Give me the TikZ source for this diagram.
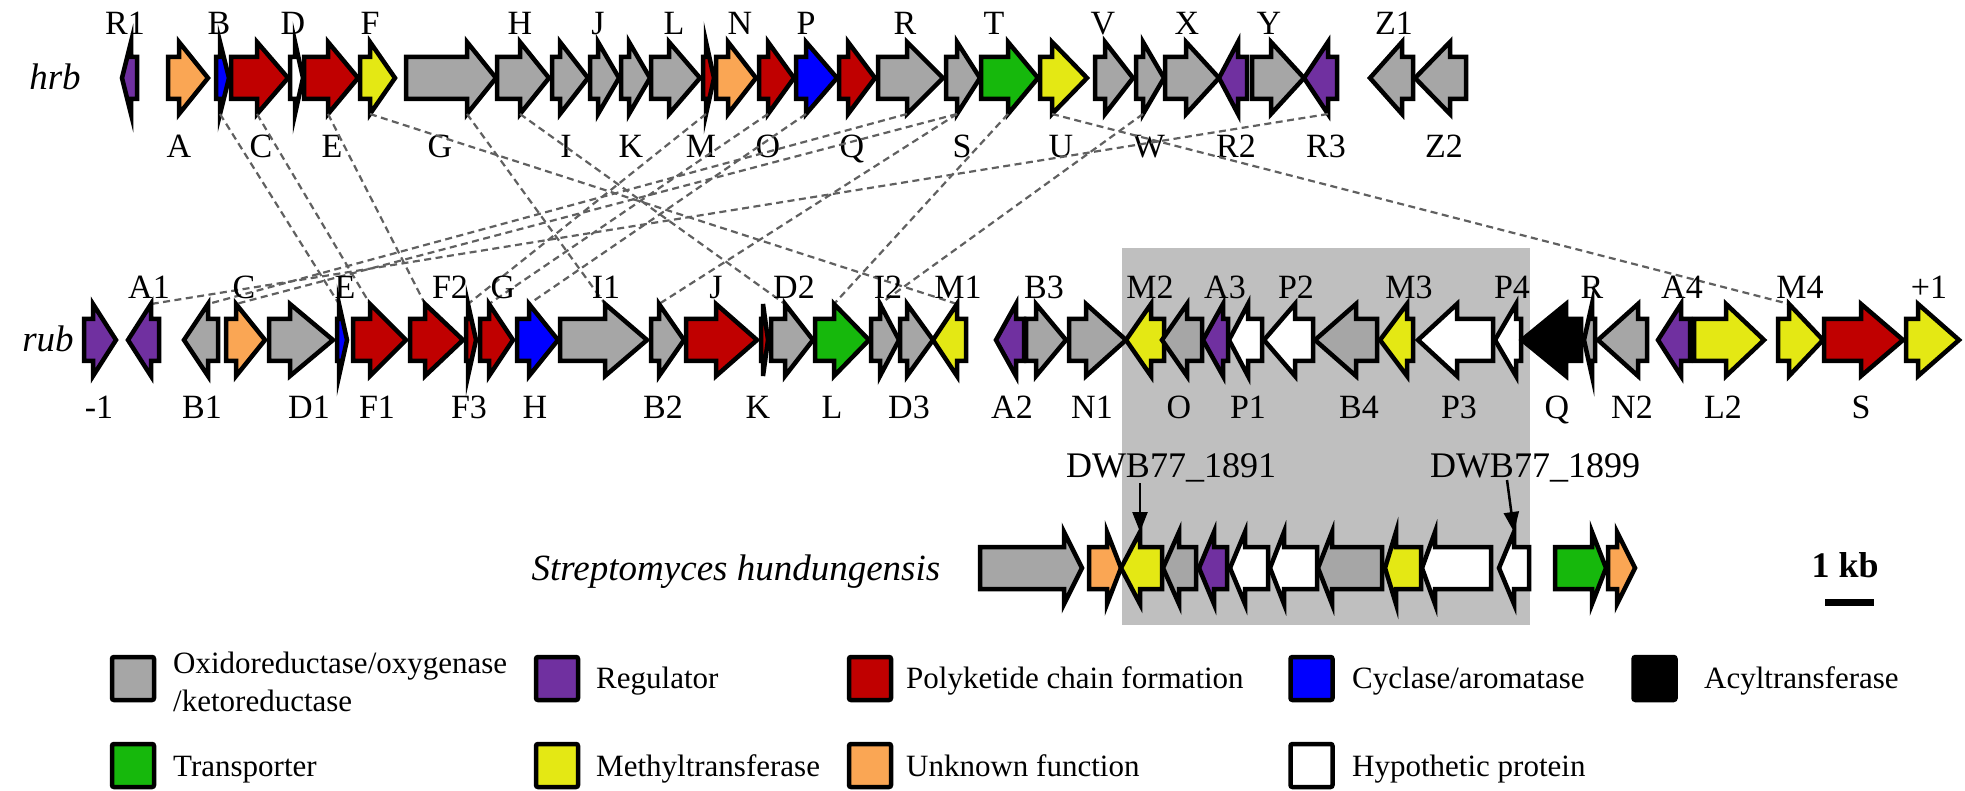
\documentclass[tikz,border=0pt]{standalone}
\usepackage{fontspec}
\setmainfont{Liberation Serif}
\usetikzlibrary{arrows.meta}
\definecolor{cgray}{RGB}{166,166,166}
\definecolor{cpur}{RGB}{112,48,160}
\definecolor{cred}{RGB}{192,0,0}
\definecolor{cblue}{RGB}{0,0,255}
\definecolor{cgreen}{RGB}{22,184,12}
\definecolor{cyel}{RGB}{228,232,20}
\definecolor{cora}{RGB}{250,166,84}
\definecolor{cbox}{RGB}{191,191,191}
\definecolor{clink}{RGB}{96,96,96}
% #1 name, #2 back x, #3 tip x, #4 head-base x, #5 centre y, #6 colour
\newcommand\gene[6]{%
  \draw[gn,fill=#6] (#2,#5-21) -- (#4,#5-21) -- (#4,#5-36) -- (#3,#5) -- (#4,#5+36) -- (#4,#5+21) -- (#2,#5+21) -- cycle;
  \coordinate (#1-t) at (#4,#5-36);
  \coordinate (#1-b) at (#4,#5+36);}
\newcommand\glabel[4]{\node[glab] (#1) at (#2,#3) {#4};}
\begin{document}
\begin{tikzpicture}[x=1pt,y=-1pt,
  gn/.style={draw=black,line width=4.5pt,line join=miter},
  link/.style={draw=clink,line width=2.2pt,dash pattern=on 7pt off 4.5pt},
  glab/.style={font=\fontsize{34}{34}\selectfont,anchor=base,inner sep=0pt},
  ital/.style={font=\itshape\fontsize{37}{37}\selectfont,anchor=base,inner sep=0pt},
  legt/.style={font=\fontsize{31}{31}\selectfont,anchor=base west,inner sep=0pt},
  legbox/.style={draw=black,line width=4.5pt,rounded corners=2pt,minimum width=42pt,minimum height=43pt,inner sep=0pt},
  pointer/.style={draw=black,line width=2.5pt,-{Triangle[length=20pt,width=15pt]}}]
\useasboundingbox (0,0) rectangle (1965,791);
% shaded region
\fill[cbox] (1122,248) rectangle (1530,625);
% ---------- hrb ----------
\node[ital] (hrb) at (55,90) {hrb};
\gene{hR1}{137}{122}{131}{78}{cpur}
\gene{hA}{168}{208}{179}{78}{cora}
\gene{hB}{216}{229}{220}{78}{cblue}
\gene{hC}{231}{288}{257}{78}{cred}
\gene{hD}{290}{303}{295}{78}{white}
\gene{hE}{304}{358}{328}{78}{cred}
\gene{hF}{360}{395}{370}{78}{cyel}
\gene{hG}{406}{496}{467}{78}{cgray}
\gene{hH}{497}{549}{520}{78}{cgray}
\gene{hI}{552}{588}{560}{78}{cgray}
\gene{hJ}{590}{619}{598}{78}{cgray}
\gene{hK}{621}{650}{629}{78}{cgray}
\gene{hL}{651}{700}{669}{78}{cgray}
\gene{hM}{703}{714}{706}{78}{cred}
\gene{hN}{716}{756}{728}{78}{cora}
\gene{hO}{759}{794}{768}{78}{cred}
\gene{hP}{796}{837}{806}{78}{cblue}
\gene{hQ}{839}{875}{848}{78}{cred}
\gene{hR}{878}{943}{907}{78}{cgray}
\gene{hS}{946}{980}{957}{78}{cgray}
\gene{hT}{981}{1038}{1008}{78}{cgreen}
\gene{hU}{1040}{1087}{1052}{78}{cyel}
\gene{hV}{1095}{1133}{1105}{78}{cgray}
\gene{hW}{1136}{1164}{1143}{78}{cgray}
\gene{hX}{1165}{1219}{1186}{78}{cgray}
\gene{hR2}{1247}{1219}{1238}{78}{cpur}
\gene{hY}{1252}{1304}{1271}{78}{cgray}
\gene{hR3}{1337}{1304}{1328}{78}{cpur}
\gene{hZ1}{1413}{1370}{1402}{78}{cgray}
\gene{hZ2}{1466}{1415}{1450}{78}{cgray}
% hrb labels
\glabel{lhR1}{125}{35}{R1}
\glabel{lhB}{219}{35}{B}
\glabel{lhD}{293}{35}{D}
\glabel{lhF}{370}{35}{F}
\glabel{lhH}{520}{35}{H}
\glabel{lhJ}{598}{35}{J}
\glabel{lhL}{674}{35}{L}
\glabel{lhN}{740}{35}{N}
\glabel{lhP}{806}{35}{P}
\glabel{lhR}{905}{35}{R}
\glabel{lhT}{994}{35}{T}
\glabel{lhV}{1103}{35}{V}
\glabel{lhX}{1187}{35}{X}
\glabel{lhY}{1269}{35}{Y}
\glabel{lhZ1}{1394}{35}{Z1}
\glabel{lhA}{179}{158}{A}
\glabel{lhC}{261}{158}{C}
\glabel{lhE}{332}{158}{E}
\glabel{lhG}{440}{158}{G}
\glabel{lhI}{566}{158}{I}
\glabel{lhK}{631}{158}{K}
\glabel{lhM}{701}{158}{M}
\glabel{lhO}{768}{158}{O}
\glabel{lhQ}{852}{158}{Q}
\glabel{lhS}{962}{158}{S}
\glabel{lhU}{1061}{158}{U}
\glabel{lhW}{1149}{158}{W}
\glabel{lhR2}{1236}{158}{R2}
\glabel{lhR3}{1326}{158}{R3}
\glabel{lhZ2}{1444}{158}{Z2}
% ---------- links (rub end points) ----------
\node[ital] (rub) at (48,352) {rub};
\foreach \n/\hb in {rA1/151,rB1/208,rC/236,rE/339,rF1/370,rF2/425,rF3/468,rG/489,rH/529,rI1/605,rB2/659,rD2/785,rL/834,rI2/880,rM1/957,rM4/1789}
  {\coordinate (\n-t) at (\hb,304);}
\draw[link] (hB-b) -- (rE-t);
\draw[link] (hC-b) -- (rF1-t);
\draw[link] (hE-b) -- (rF2-t);
\draw[link] (hF-b) -- (rM1-t);
\draw[link] (hG-b) -- (rI1-t);
\draw[link] (hH-b) -- (rD2-t);
\draw[link] (hM-b) -- (rF3-t);
\draw[link] (hO-b) -- (rG-t);
\draw[link] (hP-b) -- (rH-t);
\draw[link] (hR-b) -- (rB1-t);
\draw[link] (hS-b) -- (rC-t);
\draw[link] (hS-b) -- (rB2-t);
\draw[link] (hT-b) -- (rL-t);
\draw[link] (hW-b) -- (rI2-t);
\draw[link] (hU-b) -- (rM4-t);
\draw[link] (hR3-b) -- (rA1-t);
% ---------- rub genes ----------
\gene{rm1}{84}{116}{93}{340}{cpur}
\gene{rA1}{159}{128}{151}{340}{cpur}
\gene{rB1}{218}{184}{208}{340}{cgray}
\gene{rC}{226}{265}{236}{340}{cora}
\gene{rD1}{269}{333}{290}{340}{cgray}
\gene{rE}{337}{347}{339}{340}{cblue}
\gene{rF1}{353}{406}{370}{340}{cred}
\gene{rF2}{410}{463}{425}{340}{cred}
\gene{rF3}{466}{476}{468}{340}{cred}
\gene{rG}{480}{513}{489}{340}{cred}
\gene{rH}{517}{558}{529}{340}{cblue}
\gene{rI1}{560}{647}{605}{340}{cgray}
\gene{rB2}{651}{684}{659}{340}{cgray}
\gene{rJ}{686}{757}{716}{340}{cred}
\gene{rK}{761}{768}{763}{340}{cred}
\gene{rD2}{771}{813}{785}{340}{cgray}
\gene{rL}{815}{869}{834}{340}{cgreen}
\gene{rI2}{871}{899}{880}{340}{cgray}
\gene{rD3}{900}{933}{907}{340}{cgray}
\gene{rM1}{966}{933}{957}{340}{cyel}
\gene{rA2}{1024}{996}{1016}{340}{cpur}
\gene{rB3}{1026}{1066}{1036}{340}{cgray}
\gene{rN1}{1069}{1126}{1086}{340}{cgray}
\gene{rM2}{1164}{1126}{1151}{340}{cyel}
\gene{rO}{1202}{1162}{1187}{340}{cgray}
\gene{rA3}{1228}{1203}{1223}{340}{cpur}
\gene{rP1}{1262}{1229}{1248}{340}{white}
\gene{rP2}{1313}{1264}{1295}{340}{white}
\gene{rB4}{1377}{1315}{1356}{340}{cgray}
\gene{rM3}{1413}{1380}{1407}{340}{cyel}
\gene{rP3}{1493}{1418}{1457}{340}{white}
\gene{rP4}{1521}{1495}{1516}{340}{white}
\gene{rQ}{1581}{1522}{1566}{340}{black}
\gene{rR}{1595}{1584}{1592}{340}{cgray}
\gene{rN2}{1647}{1598}{1638}{340}{cgray}
\gene{rA4}{1690}{1658}{1681}{340}{cpur}
\gene{rL2}{1694}{1764}{1726}{340}{cyel}
\gene{rM4}{1778}{1823}{1789}{340}{cyel}
\gene{rS}{1824}{1903}{1861}{340}{cred}
\gene{rp1}{1906}{1959}{1918}{340}{cyel}
% rub labels
\glabel{lrA1}{149}{299}{A1}
\glabel{lrC}{244}{299}{C}
\glabel{lrE}{345}{299}{E}
\glabel{lrF2}{450}{299}{F2}
\glabel{lrG}{503}{299}{G}
\glabel{lrI1}{606}{299}{I1}
\glabel{lrJ}{716}{299}{J}
\glabel{lrD2}{794}{299}{D2}
\glabel{lrI2}{888}{299}{I2}
\glabel{lrM1}{958}{299}{M1}
\glabel{lrB3}{1044}{299}{B3}
\glabel{lrM2}{1150}{299}{M2}
\glabel{lrA3}{1225}{299}{A3}
\glabel{lrP2}{1296}{299}{P2}
\glabel{lrM3}{1409}{299}{M3}
\glabel{lrP4}{1512}{299}{P4}
\glabel{lrR}{1592}{299}{R}
\glabel{lrA4}{1682}{299}{A4}
\glabel{lrM4}{1800}{299}{M4}
\glabel{lrp1}{1929}{299}{+1}
\glabel{lrm1}{99}{418}{-1}
\glabel{lrB1}{202}{418}{B1}
\glabel{lrD1}{309}{418}{D1}
\glabel{lrF1}{377}{418}{F1}
\glabel{lrF3}{469}{418}{F3}
\glabel{lrH}{535}{418}{H}
\glabel{lrB2}{663}{418}{B2}
\glabel{lrK}{758}{418}{K}
\glabel{lrL}{832}{418}{L}
\glabel{lrD3}{909}{418}{D3}
\glabel{lrA2}{1012}{418}{A2}
\glabel{lrN1}{1092}{418}{N1}
\glabel{lrO}{1179}{418}{O}
\glabel{lrP1}{1248}{418}{P1}
\glabel{lrB4}{1359}{418}{B4}
\glabel{lrP3}{1459}{418}{P3}
\glabel{lrQ}{1557}{418}{Q}
\glabel{lrN2}{1632}{418}{N2}
\glabel{lrL2}{1723}{418}{L2}
\glabel{lrS}{1861}{418}{S}
% ---------- Streptomyces hundungensis ----------
\node[ital] (sh) at (736,580) {Streptomyces hundungensis};
\gene{sg1}{980}{1082}{1064}{568}{cgray}
\gene{so1}{1089}{1121}{1107}{568}{cora}
\gene{sy1}{1162}{1121}{1140}{568}{cyel}
\gene{sg2}{1196}{1163}{1179}{568}{cgray}
\gene{sp1}{1227}{1199}{1214}{568}{cpur}
\gene{sw1}{1268}{1230}{1245}{568}{white}
\gene{sw2}{1317}{1270}{1284}{568}{white}
\gene{sg3}{1382}{1318}{1332}{568}{cgray}
\gene{sy2}{1421}{1385}{1396}{568}{cyel}
\gene{sw3}{1491}{1422}{1435}{568}{white}
\gene{sw4}{1529}{1499}{1514}{568}{white}
\gene{sgr}{1555}{1606}{1592}{568}{cgreen}
\gene{so2}{1608}{1635}{1617}{568}{cora}
\node[font=\fontsize{36}{36}\selectfont,anchor=base,inner sep=0pt] (dwb1) at (1171,477) {DWB77\_1891};
\node[font=\fontsize{36}{36}\selectfont,anchor=base,inner sep=0pt] (dwb2) at (1535,477) {DWB77\_1899};
\coordinate (dwb1s) at (1140,483);
\coordinate (dwb2s) at (1507,480);
\draw[pointer] (dwb1s) -- (sy1-t);
\draw[pointer] (dwb2s) -- (sw4-t);
% scale bar
\node[font=\bfseries\fontsize{36}{36}\selectfont,anchor=base,inner sep=0pt] (kb) at (1845,577) {1 kb};
\coordinate (kbl) at (1825,602);
\coordinate (kbr) at (1874,602);
\draw[line width=7pt] (kbl) -- (kbr);
% ---------- legend ----------
\node[legbox,fill=cgray] (k1) at (133,678.5) {};
\node[legt] (t1a) at (173,673) {Oxidoreductase/oxygenase};
\node[legt] (t1b) at (173,711) {/ketoreductase};
\node[legbox,fill=cpur] (k2) at (557,678.5) {};
\node[legt] (t2) at (596,688) {Regulator};
\node[legbox,fill=cred] (k3) at (870,678.5) {};
\node[legt] (t3) at (906,688) {Polyketide chain formation};
\node[legbox,fill=cblue] (k4) at (1311.5,678.5) {};
\node[legt] (t4) at (1352,688) {Cyclase/aromatase};
\node[legbox,fill=black] (k5) at (1654.5,678.5) {};
\node[legt] (t5) at (1704,688) {Acyltransferase};
\node[legbox,fill=cgreen] (k6) at (133,765.5) {};
\node[legt] (t6) at (173,776) {Transporter};
\node[legbox,fill=cyel] (k7) at (557,765.5) {};
\node[legt] (t7) at (596,776) {Methyltransferase};
\node[legbox,fill=cora] (k8) at (870,765.5) {};
\node[legt] (t8) at (906,776) {Unknown function};
\node[legbox,fill=white] (k9) at (1311.5,765.5) {};
\node[legt] (t9) at (1352,776) {Hypothetic protein};
\end{tikzpicture}
\end{document}
